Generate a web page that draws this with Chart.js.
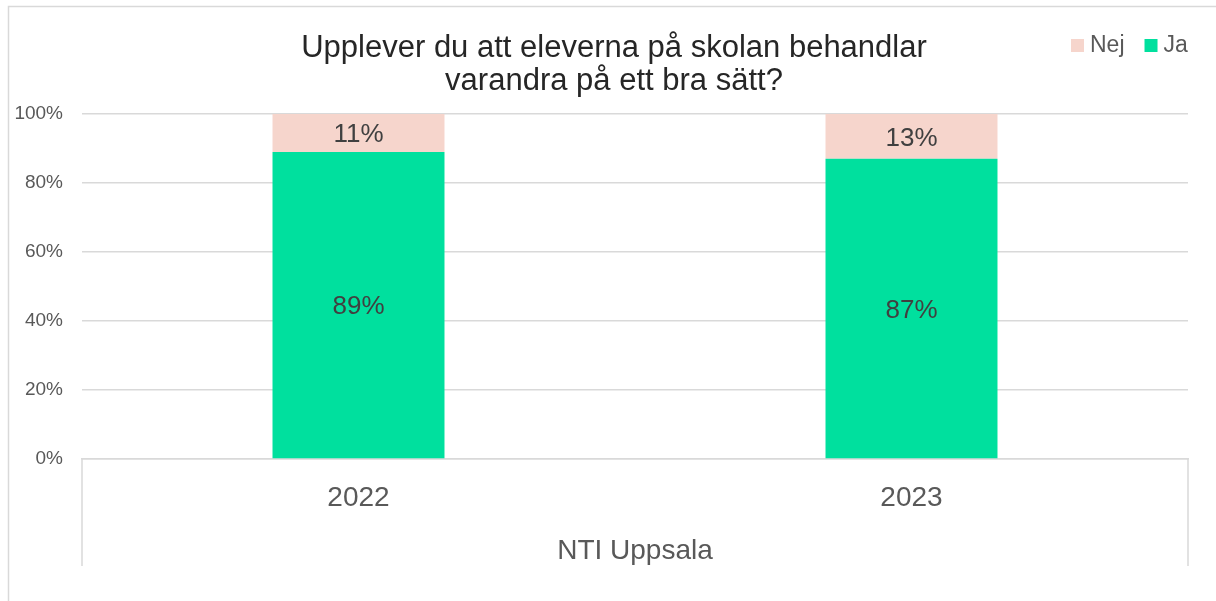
<!DOCTYPE html>
<html>
<head>
<meta charset="utf-8">
<script src="https://cdn.jsdelivr.net/npm/chart.js@4.4.1/dist/chart.umd.min.js"></script>
<style>
    html, body { margin: 0; padding: 0; background: #fff; }
    canvas { display: block; }
</style>
</head>
<body>
<canvas id="grafico" width="1216" height="601"></canvas>
<script>
var anios = ['2022', '2023'];
var grupos = ['NTI Uppsala'];
var ja = [89, 87];
var nej = [11, 13];
var ticksY = [0, 20, 40, 60, 80, 100];
var titulo = ['Upplever du att eleverna på skolan behandlar', 'varandra på ett bra sätt?'];

var fuente = "'Liberation Sans', Arial, sans-serif";
var gris = '#d9d9d9';

var dibujos = {
    id: 'dibujos',
    beforeDraw: function (chart) {
        var ctx = chart.ctx;
        ctx.save();
        ctx.strokeStyle = gris;
        ctx.lineWidth = 1.5;
        ctx.beginPath();
        ctx.moveTo(8.5, chart.height);
        ctx.lineTo(8.5, 6.5);
        ctx.lineTo(chart.width, 6.5);
        ctx.stroke();
        ctx.restore();
    },
    afterDatasetsDraw: function (chart) {
        var ctx = chart.ctx;
        ctx.save();
        ctx.font = '26px ' + fuente;
        ctx.fillStyle = '#404040';
        ctx.textAlign = 'center';
        ctx.textBaseline = 'middle';
        chart.data.datasets.forEach(function (ds, i) {
            chart.getDatasetMeta(i).data.forEach(function (bar, j) {
                ctx.fillText(ds.data[j] + '%', bar.x, (bar.y + bar.base) / 2 + 2);
            });
        });
        ctx.restore();
    },
    afterDraw: function (chart) {
        var ctx = chart.ctx;
        var area = chart.chartArea;
        ctx.save();
        // separadores del eje de categorias
        ctx.strokeStyle = gris;
        ctx.lineWidth = 1.5;
        ctx.beginPath();
        ctx.moveTo(area.left, area.bottom);
        ctx.lineTo(area.left, 566);
        ctx.moveTo(area.right, area.bottom);
        ctx.lineTo(area.right, 566);
        ctx.stroke();

        // titulo
        ctx.font = '31px ' + fuente;
        ctx.fillStyle = '#262626';
        ctx.textAlign = 'center';
        ctx.textBaseline = 'middle';
        titulo.forEach(function (linea, i) {
            ctx.fillText(linea, 614, 48 + i * 33);
        });

        // leyenda (orden invertido como en Excel)
        ctx.font = '23px ' + fuente;
        ctx.textAlign = 'left';
        var x = 1071;
        chart.data.datasets.slice().reverse().forEach(function (ds) {
            ctx.fillStyle = ds.backgroundColor;
            ctx.fillRect(x, 39, 13, 13);
            ctx.fillStyle = '#595959';
            ctx.fillText(ds.label, x + 19, 46);
            x += 19 + ctx.measureText(ds.label).width + 20;
        });
        ctx.restore();
    }
};

var chart = new Chart(document.getElementById('grafico'), {
    type: 'bar',
    data: {
        labels: anios,
        datasets: [{
            label: 'Ja',
            data: ja,
            backgroundColor: '#00e09e',
            categoryPercentage: 1,
            barPercentage: 0.311
        }, {
            label: 'Nej',
            data: nej,
            backgroundColor: '#f6d5cc',
            categoryPercentage: 1,
            barPercentage: 0.311
        }]
    },
    options: {
        responsive: false,
        animation: false,
        devicePixelRatio: 1,
        layout: {
            padding: { left: 0, right: 28, top: 114, bottom: 0 }
        },
        plugins: {
            legend: { display: false },
            title: { display: false },
            tooltip: { enabled: false }
        },
        scales: {
            x: {
                stacked: true,
                grid: { display: false, drawTicks: false },
                border: { display: true, color: gris, width: 1.5 },
                ticks: { padding: 22, color: '#595959', font: { family: fuente, size: 28 } },
                afterFit: function (scale) { scale.height = 62; }
            },
            x2: {
                type: 'category',
                labels: grupos,
                position: 'bottom',
                offset: true,
                grid: { display: false, drawTicks: false },
                border: { display: false },
                ticks: { padding: 13, color: '#595959', font: { family: fuente, size: 28 } },
                afterFit: function (scale) { scale.height = 80; }
            },
            y: {
                stacked: true,
                min: 0,
                max: 100,
                grid: { color: gris, lineWidth: 1.5, drawTicks: false },
                border: { display: false },
                afterBuildTicks: function (scale) {
                    scale.ticks = ticksY.map(function (v) { return { value: v }; });
                },
                ticks: {
                    padding: 19,
                    color: '#595959',
                    font: { family: fuente, size: 19 },
                    callback: function (v) { return v + '%'; }
                },
                afterFit: function (scale) { scale.width = 82; }
            }
        }
    },
    plugins: [dibujos]
});
</script>
</body>
</html>
